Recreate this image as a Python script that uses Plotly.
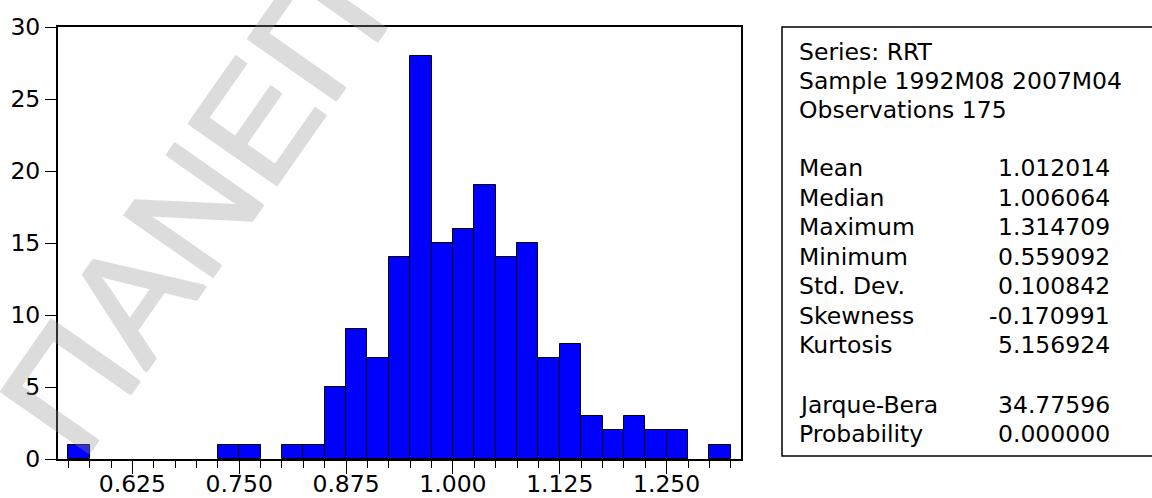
import plotly.graph_objects as go

# ---------------- data ----------------
bin_starts = [0.550, 0.575, 0.600, 0.625, 0.650, 0.675, 0.700, 0.725, 0.750, 0.775,
              0.800, 0.825, 0.850, 0.875, 0.900, 0.925, 0.950, 0.975, 1.000, 1.025,
              1.050, 1.075, 1.100, 1.125, 1.150, 1.175, 1.200, 1.225, 1.250, 1.275,
              1.300]
counts = [1, 0, 0, 0, 0, 0, 0, 1, 1, 0,
          1, 1, 5, 9, 7, 14, 28, 15, 16, 19,
          14, 15, 7, 8, 3, 2, 3, 2, 2, 0,
          1]
bin_width = 0.025

x_tick_vals = [0.625, 0.750, 0.875, 1.000, 1.125, 1.250]
x_tick_text = ["0.625", "0.750", "0.875", "1.000", "1.125", "1.250"]
y_tick_vals = [0, 5, 10, 15, 20, 25, 30]

header_lines = ["Series: RRT", "Sample 1992M08 2007M04", "Observations 175"]
stat_labels = ["Mean", "Median", "Maximum", "Minimum", "Std. Dev.", "Skewness", "Kurtosis"]
stat_values = ["1.012014", "1.006064", "1.314709", "0.559092", "0.100842", "-0.170991", "5.156924"]
test_labels = ["Jarque-Bera", "Probability"]
test_values = ["34.77596", "0.000000"]

watermark_text = "ΠΑΝΕΠ"

# ---------------- layout geometry (pixels) ----------------
W, H = 1152, 498
L, R, T, B = 58, 741, 27, 459
FONT = "DejaVu Sans"
FS = 23.5


def px(xp):
    return (xp - L) / (R - L)


def py(yp):
    return (B - yp) / (B - T)


centers = [s + bin_width / 2 for s in bin_starts]
edges = bin_starts + [bin_starts[-1] + bin_width]
outline_w = [1 if c > 0 else 0 for c in counts]

fig = go.Figure()
fig.add_trace(go.Bar(
    x=centers, y=counts, width=[bin_width] * len(counts),
    marker=dict(color="#0000FF", line=dict(color="black", width=outline_w)),
    showlegend=False, hoverinfo="x+y",
))

annotations = []
header_y = [52, 81, 110]
for txt, yy in zip(header_lines, header_y):
    annotations.append(dict(x=px(797), y=py(yy), xref="paper", yref="paper", text=txt,
                            showarrow=False, xanchor="left", yanchor="middle",
                            font=dict(family=FONT, size=FS, color="black")))
stat_y = [168, 197.5, 227, 256.5, 286, 315.5, 345]
for lab, val, yy in zip(stat_labels, stat_values, stat_y):
    annotations.append(dict(x=px(797), y=py(yy), xref="paper", yref="paper", text=lab,
                            showarrow=False, xanchor="left", yanchor="middle",
                            font=dict(family=FONT, size=FS, color="black")))
    annotations.append(dict(x=px(1112), y=py(yy), xref="paper", yref="paper", text=val,
                            showarrow=False, xanchor="right", yanchor="middle",
                            font=dict(family=FONT, size=FS, color="black")))
test_y = [404.5, 434]
for lab, val, yy in zip(test_labels, test_values, test_y):
    annotations.append(dict(x=px(797), y=py(yy), xref="paper", yref="paper", text=lab,
                            showarrow=False, xanchor="left", yanchor="middle",
                            font=dict(family=FONT, size=FS, color="black")))
    annotations.append(dict(x=px(1112), y=py(yy), xref="paper", yref="paper", text=val,
                            showarrow=False, xanchor="right", yanchor="middle",
                            font=dict(family=FONT, size=FS, color="black")))

# watermark (slightly thickened strokes via shadows, whole group made translucent)
wm_col = "rgb(150,150,150)"
wm_shadow = ", ".join(f"{dx}px {dy}px 0 {wm_col}" for dx, dy in
                      [(1.5, 1.5), (-1.5, -1.5), (1.5, -1.5), (-1.5, 1.5)])
annotations.append(dict(x=px(193), y=py(210), xref="paper", yref="paper",
                        text=watermark_text, showarrow=False, textangle=-55,
                        xanchor="center", yanchor="middle", opacity=0.32,
                        font=dict(family="Liberation Sans", size=155,
                                  color=wm_col, shadow=wm_shadow)))

shapes = [dict(type="rect", xref="paper", yref="paper",
               x0=px(782), x1=px(1156), y0=py(456), y1=py(27),
               line=dict(color="black", width=1.5), fillcolor="rgba(0,0,0,0)",
               layer="below")]

fig.update_layout(
    width=W, height=H,
    margin=dict(l=L, r=W - R, t=T, b=H - B, pad=0, autoexpand=False),
    paper_bgcolor="white", plot_bgcolor="white",
    bargap=0,
    annotations=annotations,
    shapes=shapes,
    font=dict(family=FONT, size=FS, color="black"),
    xaxis=dict(
        range=[0.538, 1.337], showgrid=False, zeroline=False, automargin=False,
        tickmode="array", tickvals=x_tick_vals, ticktext=x_tick_text,
        ticks="outside", ticklen=13, tickwidth=1, tickcolor="black",
        ticklabelstandoff=-10,
        minor=dict(tickmode="array", tickvals=edges, ticks="outside", ticklen=7,
                   tickwidth=1, tickcolor="black", showgrid=False),
        showline=True, linecolor="black", linewidth=2, mirror=True,
        tickfont=dict(family=FONT, size=FS, color="black"),
    ),
    yaxis=dict(
        range=[0, 30], showgrid=False, zeroline=False, automargin=False,
        tickmode="array", tickvals=y_tick_vals,
        ticks="outside", ticklen=11, tickwidth=1, tickcolor="black",
        showline=True, linecolor="black", linewidth=2, mirror=True,
        tickfont=dict(family=FONT, size=FS, color="black"),
    ),
)

fig.write_html("out.html")
